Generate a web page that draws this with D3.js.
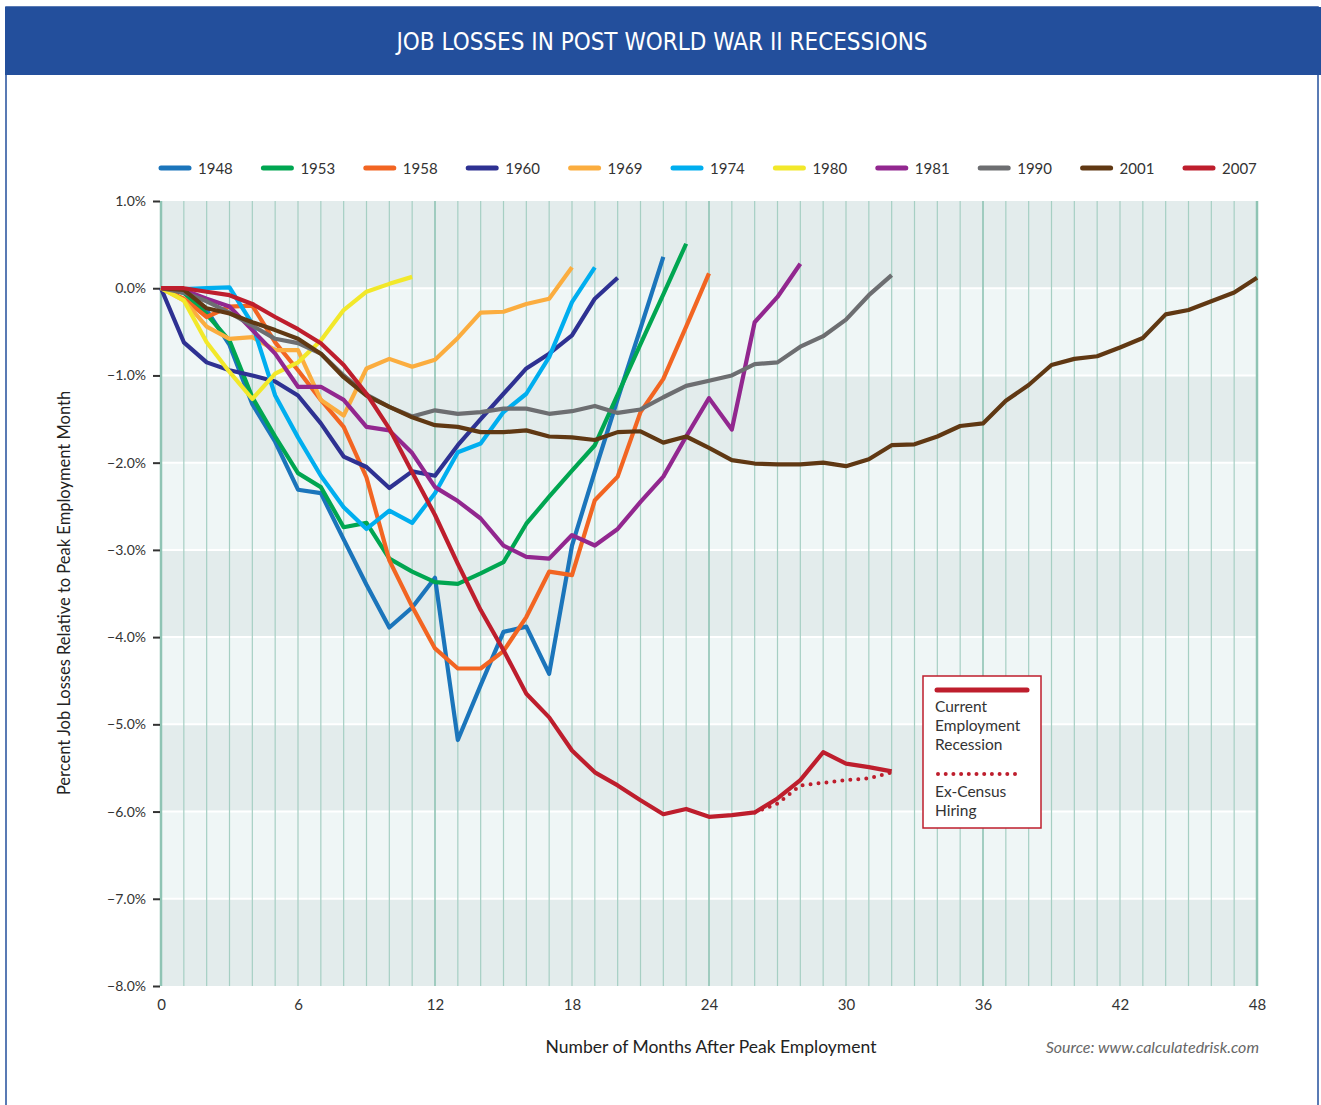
<!DOCTYPE html>
<html>
<head>
<meta charset="utf-8">
<script src="https://cdn.jsdelivr.net/npm/d3@7"></script>
<style>
  body { margin: 0; background: #fff; }
  svg { display: block; }
  text { font-family: Lato, "Open Sans", sans-serif; }
</style>
</head>
<body>
<svg id="chart"></svg>
<script>
// recession years, in legend order
const years = ["1948", "1953", "1958", "1960", "1969", "1974", "1980", "1981", "1990", "2001", "2007"];
const colors = ["#1b75bb", "#00a651", "#f26522", "#2e3192", "#fbad3f", "#00aeef", "#f2e82a", "#92278f", "#6d6e71", "#603813", "#be1e2d"];

// percent change from peak, one value per month (index = month)
const s1948 = [0, -0.05, -0.25, -0.65, -1.33, -1.76, -2.31, -2.35, -2.88, -3.4, -3.89, -3.66, -3.32, -5.18, -4.55, -3.94, -3.88, -4.42, -2.95, -2.1, -1.27, -0.46, 0.36];
const s1953 = [0, -0.05, -0.3, -0.6, -1.25, -1.7, -2.12, -2.28, -2.74, -2.69, -3.1, -3.25, -3.37, -3.39, -3.27, -3.14, -2.7, -2.39, -2.09, -1.8, -1.22, -0.64, -0.07, 0.51];
const s1958 = [0, -0.12, -0.33, -0.21, -0.2, -0.62, -0.94, -1.28, -1.59, -2.17, -3.12, -3.65, -4.13, -4.36, -4.36, -4.16, -3.77, -3.25, -3.29, -2.43, -2.16, -1.42, -1.04, -0.44, 0.17];
const s1960 = [0, -0.62, -0.85, -0.94, -1.0, -1.07, -1.23, -1.55, -1.93, -2.05, -2.29, -2.1, -2.15, -1.8, -1.5, -1.21, -0.92, -0.75, -0.54, -0.12, 0.12];
const s1969 = [0, -0.14, -0.44, -0.58, -0.56, -0.71, -0.71, -1.28, -1.46, -0.92, -0.81, -0.9, -0.82, -0.57, -0.28, -0.27, -0.18, -0.12, 0.24];
const s1974 = [0, -0.01, 0, 0.01, -0.41, -1.23, -1.71, -2.15, -2.51, -2.76, -2.55, -2.69, -2.35, -1.88, -1.78, -1.42, -1.21, -0.79, -0.16, 0.24];
const s1980 = [0, -0.14, -0.62, -0.96, -1.27, -0.98, -0.85, -0.6, -0.25, -0.04, 0.05, 0.13];
const s1981 = [0, -0.02, -0.12, -0.21, -0.48, -0.75, -1.13, -1.13, -1.28, -1.59, -1.63, -1.89, -2.28, -2.44, -2.64, -2.95, -3.08, -3.1, -2.83, -2.95, -2.76, -2.45, -2.16, -1.7, -1.26, -1.62, -0.39, -0.1, 0.28];
const s1990 = [0, -0.05, -0.15, -0.28, -0.43, -0.58, -0.63, -0.75, -1.0, -1.22, -1.36, -1.47, -1.4, -1.44, -1.42, -1.38, -1.38, -1.44, -1.41, -1.35, -1.43, -1.39, -1.25, -1.12, -1.06, -1.0, -0.87, -0.85, -0.67, -0.55, -0.36, -0.08, 0.15];
const s2001 = [0, -0.02, -0.23, -0.29, -0.39, -0.48, -0.58, -0.75, -1.02, -1.23, -1.36, -1.48, -1.57, -1.59, -1.65, -1.65, -1.63, -1.7, -1.71, -1.74, -1.65, -1.64, -1.77, -1.7, -1.83, -1.97, -2.01, -2.02, -2.02, -2.0, -2.04, -1.96, -1.8, -1.79, -1.7, -1.58, -1.55, -1.29, -1.11, -0.88, -0.81, -0.78, -0.68, -0.57, -0.3, -0.25, -0.15, -0.05, 0.12];
const s2007 = [0, 0, -0.04, -0.08, -0.18, -0.33, -0.47, -0.63, -0.88, -1.21, -1.61, -2.11, -2.6, -3.16, -3.69, -4.15, -4.65, -4.92, -5.3, -5.55, -5.7, -5.87, -6.03, -5.97, -6.06, -6.04, -6.01, -5.85, -5.64, -5.32, -5.45, -5.49, -5.54];
// 2007 excluding census hiring, months 26..32
const exCensusStart = 26;
const exCensus = [-6.01, -5.91, -5.7, -5.67, -5.64, -5.62, -5.55];

const seriesValues = [s1948, s1953, s1958, s1960, s1969, s1974, s1980, s1981, s1990, s2001, s2007];

const xTicks = [0, 6, 12, 18, 24, 30, 36, 42, 48];
const yTicks = [1, 0, -1, -2, -3, -4, -5, -6, -7, -8];

const W = 1321, H = 1105;
const svg = d3.select("#chart").attr("width", W).attr("height", H);

// frame and title bar
svg.append("rect").attr("x", 6).attr("y", 7).attr("width", W - 9).attr("height", H)
    .attr("fill", "#fff").attr("stroke", "#234f9c").attr("stroke-width", 1.5);
svg.append("rect").attr("x", 5).attr("y", 7).attr("width", W - 5).attr("height", 68)
    .attr("fill", "#234f9c");
svg.append("text")
    .attr("x", 662).attr("y", 50)
    .attr("text-anchor", "middle")
    .attr("fill", "#fff")
    .style("font-family", "'Liberation Sans Narrow', 'DejaVu Sans Condensed', sans-serif")
    .style("font-size", "24px")
    .style("font-weight", 500)
    .text("JOB LOSSES IN POST WORLD WAR II RECESSIONS");

const x = d3.scaleLinear().domain([0, 48]).range([161, 1257]);
const y = d3.scaleLinear().domain([-8, 1]).range([986, 201]);

const plot = svg.append("g");

// alternating bands, one per percent
const bands = d3.range(-8, 1);
plot.selectAll(".band")
    .data(bands)
    .enter()
    .append("rect")
        .attr("class", "band")
        .attr("x", x(0))
        .attr("width", x(48) - x(0))
        .attr("y", d => y(d + 1))
        .attr("height", d => y(d) - y(d + 1))
        .attr("fill", d => d % 2 === 0 ? "#e3ecec" : "#eff6f6");

// white horizontal separators
plot.selectAll(".hgrid")
    .data(d3.range(-7, 1))
    .enter()
    .append("line")
        .attr("x1", x(0)).attr("x2", x(48))
        .attr("y1", d => y(d)).attr("y2", d => y(d))
        .attr("stroke", "#fff").attr("stroke-width", 2);

// monthly vertical lines
plot.selectAll(".vgrid")
    .data(d3.range(0, 49))
    .enter()
    .append("line")
        .attr("x1", d => x(d)).attr("x2", d => x(d))
        .attr("y1", y(1)).attr("y2", y(-8))
        .attr("stroke", d => d % 12 === 0 ? "#8fc4b4" : "#a6cfc3")
        .attr("stroke-width", d => (d === 0 || d === 48) ? 2.5 : (d % 12 === 0 ? 1.6 : 1.2));

// y axis
const yAxis = svg.append("g")
    .attr("transform", `translate(${x(0) - 1}, 0)`)
    .call(d3.axisLeft(y).tickValues(yTicks).tickSize(7).tickPadding(7)
        .tickFormat(d => d3.format(".1f")(d) + "%"));
yAxis.select(".domain").remove();
yAxis.selectAll(".tick line").attr("stroke", "#333").attr("stroke-width", 2);
yAxis.selectAll(".tick text")
    .attr("fill", "#333")
    .style("font-size", "14px")
    .style("font-family", "Lato, sans-serif");

// x axis
const xAxis = svg.append("g")
    .attr("transform", `translate(0, ${y(-8)})`)
    .call(d3.axisBottom(x).tickValues(xTicks).tickSize(0).tickPadding(13));
xAxis.select(".domain").remove();
xAxis.selectAll(".tick text")
    .attr("fill", "#333")
    .style("font-size", "15px")
    .style("font-family", "Lato, sans-serif");

// series lines
const line = d3.line()
    .x((d, i) => x(i))
    .y(d => y(d));

const lineData = years.map((yr, i) => ({ year: yr, color: colors[i], values: seriesValues[i] }));

svg.append("g").selectAll(".series")
    .data(lineData)
    .enter()
    .append("path")
        .attr("class", "series")
        .attr("fill", "none")
        .attr("stroke", d => d.color)
        .attr("stroke-width", 4.2)
        .attr("stroke-linejoin", "round")
        .attr("d", d => line(d.values));

// ex-census dotted line
const dotLine = d3.line()
    .x((d, i) => x(exCensusStart + i))
    .y(d => y(d));
svg.append("path")
    .attr("fill", "none")
    .attr("stroke", "#be1e2d")
    .attr("stroke-width", 4)
    .attr("stroke-linecap", "round")
    .attr("stroke-dasharray", "0,8")
    .attr("d", dotLine(exCensus));

// top legend
const legend = svg.append("g").attr("transform", "translate(161, 168)");
const item = legend.selectAll(".item")
    .data(lineData)
    .enter()
    .append("g")
        .attr("transform", (d, i) => `translate(${i * 102.4}, 0)`);
item.append("line")
    .attr("x1", 0).attr("x2", 28)
    .attr("stroke", d => d.color)
    .attr("stroke-width", 5)
    .attr("stroke-linecap", "round");
item.append("text")
    .attr("x", 37).attr("y", 5.5)
    .attr("fill", "#333")
    .style("font-size", "15px")
    .text(d => d.year);

// box legend for the current recession
const box = svg.append("g").attr("transform", "translate(923, 676)");
box.append("rect")
    .attr("width", 118).attr("height", 152)
    .attr("fill", "#fff")
    .attr("stroke", "#be1e2d").attr("stroke-width", 1.5);
box.append("line")
    .attr("x1", 14).attr("x2", 104).attr("y1", 14).attr("y2", 14)
    .attr("stroke", "#be1e2d").attr("stroke-width", 5).attr("stroke-linecap", "round");
["Current", "Employment", "Recession"].forEach((t, i) => {
    box.append("text").attr("x", 12).attr("y", 36 + i * 19)
        .attr("fill", "#333").style("font-size", "15.5px").text(t);
});
box.append("line")
    .attr("x1", 15).attr("x2", 92).attr("y1", 98).attr("y2", 98)
    .attr("stroke", "#be1e2d").attr("stroke-width", 4)
    .attr("stroke-linecap", "round").attr("stroke-dasharray", "0,7.7");
["Ex-Census", "Hiring"].forEach((t, i) => {
    box.append("text").attr("x", 12).attr("y", 121 + i * 19)
        .attr("fill", "#333").style("font-size", "15.5px").text(t);
});

// axis titles
svg.append("text")
    .attr("transform", "translate(70, 593) rotate(-90)")
    .attr("text-anchor", "middle")
    .attr("fill", "#222")
    .style("font-size", "16.5px")
    .text("Percent Job Losses Relative to Peak Employment Month");

svg.append("text")
    .attr("x", 711).attr("y", 1053)
    .attr("text-anchor", "middle")
    .attr("fill", "#222")
    .style("font-size", "17.5px")
    .text("Number of Months After Peak Employment");

svg.append("text")
    .attr("x", 1259).attr("y", 1053)
    .attr("text-anchor", "end")
    .attr("fill", "#666")
    .style("font-size", "16px")
    .style("font-style", "italic")
    .text("Source: www.calculatedrisk.com");
</script>
</body>
</html>
